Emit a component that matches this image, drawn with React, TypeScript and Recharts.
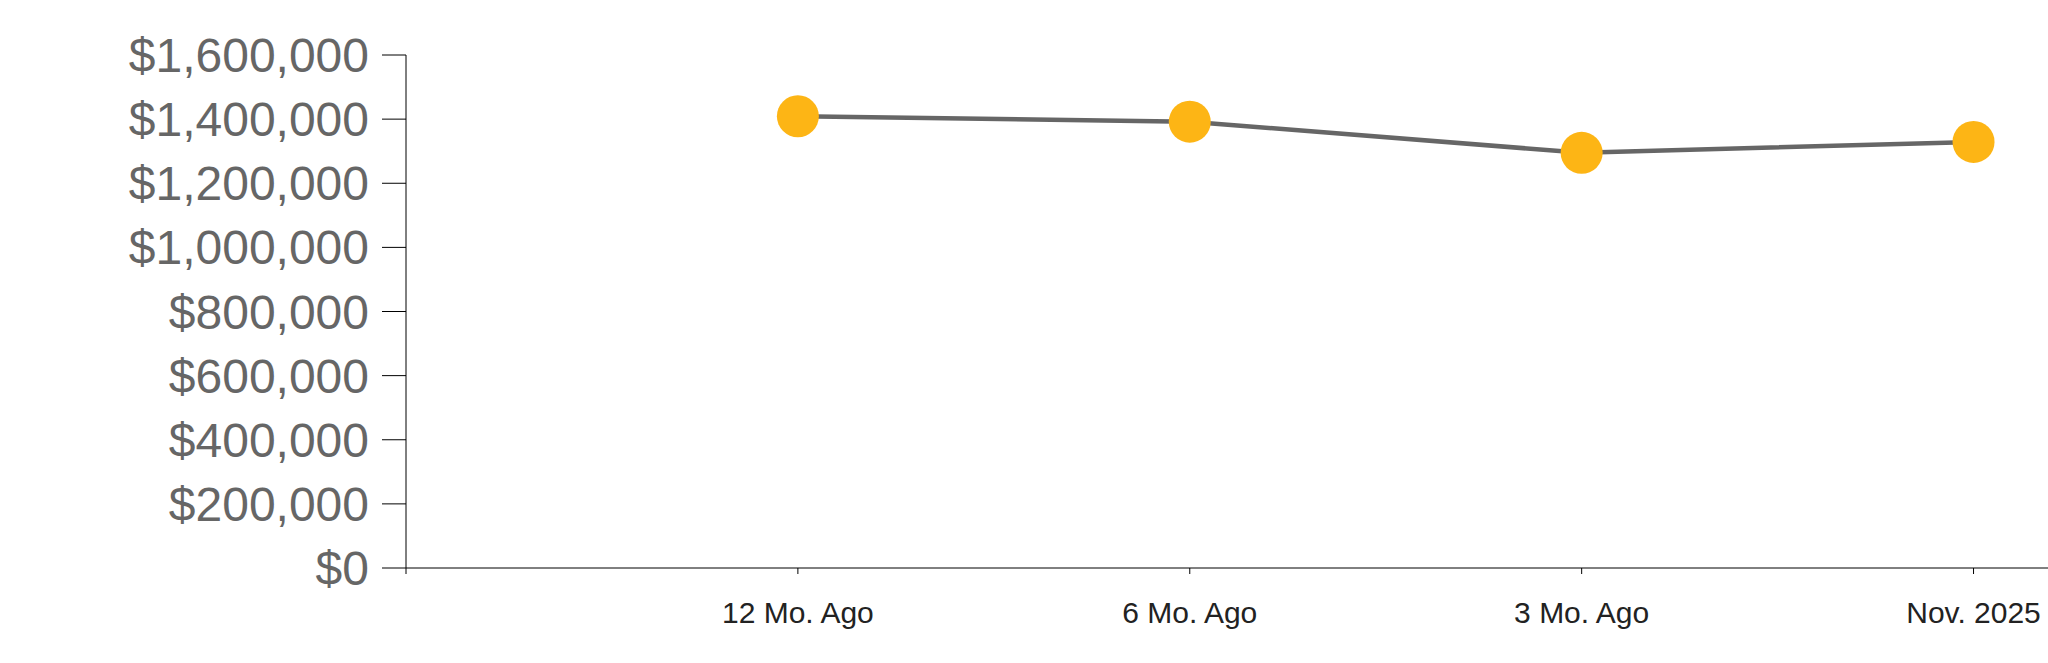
import React from 'react';
import { LineChart, Line, XAxis, YAxis } from 'recharts';

const periods = ['12 Mo. Ago', '6 Mo. Ago', '3 Mo. Ago', 'Nov. 2025'];
const values = [1409000, 1392000, 1295000, 1329000];
const yTicks = [0, 200000, 400000, 600000, 800000, 1000000, 1200000, 1400000, 1600000];
const xTicks = [0, 1, 2, 3, 4];

// x is the slot index; slot 0 is the empty tick at the y axis
const data = values.map((v, i) => ({ x: i + 1, value: v }));

const money = (v: number) => '$' + v.toLocaleString('en-US');
const periodLabel = (i: number) => periods[i - 1] ?? '';

const App = () => {
  return (
    <div style={{ position: 'absolute', left: 0, top: 0, width: 2048, height: 663, overflow: 'hidden', background: '#fff' }}>
      <LineChart width={2048} height={663} data={data} margin={{ top: 55, right: 0, left: 0, bottom: 35 }}>
        <XAxis
          dataKey="x"
          type="number"
          domain={[0, 4.19]}
          ticks={xTicks}
          tickFormatter={periodLabel}
          height={60}
          tickSize={6}
          tickMargin={28}
          axisLine={{ stroke: '#000' }}
          tickLine={{ stroke: '#000' }}
          tick={{ fill: '#222', fontSize: 30, fontFamily: 'Liberation Sans, Arial, sans-serif' }}
        />
        <YAxis
          domain={[0, 1600000]}
          ticks={yTicks}
          tickFormatter={money}
          width={406}
          tickSize={24}
          tickMargin={13}
          axisLine={{ stroke: '#000' }}
          tickLine={{ stroke: '#000' }}
          tick={{ fill: '#666', fontSize: 48, fontFamily: 'Liberation Sans, Arial, sans-serif' }}
        />
        <Line
          dataKey="value"
          stroke="#666"
          strokeWidth={4.5}
          dot={{ r: 21, fill: '#FDB515', stroke: 'none' }}
          activeDot={false}
          isAnimationActive={false}
        />
      </LineChart>
    </div>
  );
};

export default App;
